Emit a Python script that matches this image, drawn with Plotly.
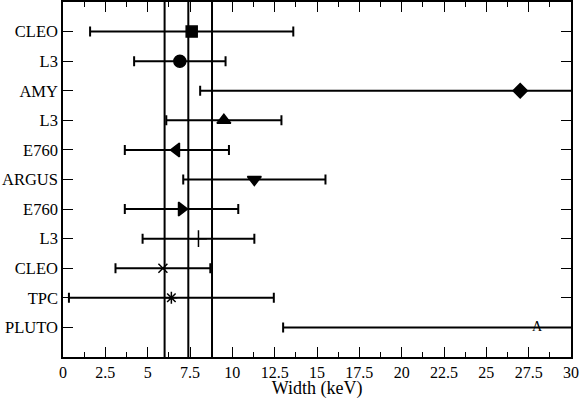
import plotly.graph_objects as go

# Experiments, bottom to top
labels = ["PLUTO", "TPC", "CLEO", "L3", "E760", "ARGUS", "E760", "L3", "AMY", "L3", "CLEO"]
rows = [1, 2, 3, 4, 5, 6, 7, 8, 9, 10, 11]
width = [28.0, 6.4, 5.9, 8.0, 7.0, 11.3, 6.7, 9.5, 27.0, 6.9, 7.6]
err_plus = [15.0, 6.05, 2.8, 3.3, 3.35, 4.2, 3.1, 3.4, 19.0, 2.7, 6.0]
err_minus = [15.0, 6.05, 2.8, 3.3, 3.35, 4.2, 3.05, 3.4, 18.9, 2.7, 6.0]
symbols = [None, "asterisk-open", "x-thin-open", "cross-thin-open", "triangle-right",
           "triangle-down", "triangle-left", "triangle-up", "diamond", "circle", "square"]
sizes = [0, 10, 9, 12, 12, 12, 12, 12, 11, 12, 11]

# average and its band
band = [6.0, 7.4, 8.8]

serif = "Times New Roman, Liberation Serif, DejaVu Serif, serif"

fig = go.Figure()

for i in range(len(rows)):
    if symbols[i] is None:
        fig.add_trace(go.Scatter(
            x=[width[i]], y=[rows[i]], mode="text", text=["A"],
            textfont=dict(family=serif, size=14, color="black"),
            error_x=dict(type="data", array=[err_plus[i]], arrayminus=[err_minus[i]],
                         color="black", thickness=2, width=5),
            showlegend=False))
    else:
        fig.add_trace(go.Scatter(
            x=[width[i]], y=[rows[i]], mode="markers",
            marker=dict(symbol=symbols[i], size=sizes[i], color="black",
                        line=dict(color="black", width=1.5)),
            error_x=dict(type="data", array=[err_plus[i]], arrayminus=[err_minus[i]],
                         color="black", thickness=2, width=5),
            showlegend=False))

for b in band:
    fig.add_shape(type="line", x0=b, x1=b, y0=0, y1=1, xref="x", yref="paper",
                  line=dict(color="black", width=2))

fig.update_layout(
    width=581, height=399,
    margin=dict(l=63, r=10, t=2, b=42, autoexpand=False),
    plot_bgcolor="white", paper_bgcolor="white",
    font=dict(family=serif, size=16, color="black"),
    xaxis=dict(range=[0, 30], tickvals=[0, 2.5, 5, 7.5, 10, 12.5, 15, 17.5, 20, 22.5, 25, 27.5, 30],
               ticktext=["0", "2.5", "5", "7.5", "10", "12.5", "15", "17.5", "20", "22.5", "25", "27.5", "30"],
               ticks="inside", ticklen=10, tickwidth=1.2, tickcolor="black",
               minor=dict(dtick=1.25, tick0=0, ticks="inside", ticklen=5, tickcolor="black", tickwidth=1.2),
               showline=True, linecolor="black", linewidth=1.5, mirror="ticks",
               showgrid=False, zeroline=False, tickfont=dict(size=16),
               title=dict(text="Width (keV)", font=dict(size=18), standoff=3)),
    yaxis=dict(range=[0, 12], tickvals=rows, ticktext=labels,
               ticks="inside", ticklen=10, tickwidth=1.2, tickcolor="black",
               showline=True, linecolor="black", linewidth=1.5, mirror="ticks",
               showgrid=False, zeroline=False, tickfont=dict(size=16.5)),
)

fig.write_html("out.html", config={"displayModeBar": False},
               post_script="document.body.style.margin='0';")
